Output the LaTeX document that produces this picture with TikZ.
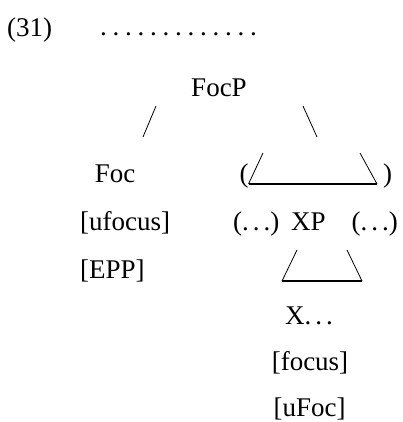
\documentclass[tikz,border=0pt]{standalone}
\usepackage{fontspec}
\setmainfont{Liberation Serif}
\newcommand\dts{.\kern4pt.\kern4pt.}
\begin{document}
\begin{tikzpicture}[
x=1pt, y=-1pt,
every node/.style={inner sep=0pt, font=\fontsize{27}{32}\selectfont},
label/.style={anchor=base},
feat/.style={anchor=base west},
branch/.style={line width=0.8pt},
base/.style={line width=2.2pt}
]
\useasboundingbox (0,0) rectangle (402,422);

\node (num) [feat] at (7,37) {(31)};
\node (dots) [feat] at (100,36) {\foreach \i in {1,...,13}{.\kern5.75pt}};

\node (focp) [label] at (219,97) {FocP};

\node (foc) [label] at (115,182) {Foc};
\node (ufocus) [feat] at (80,230) {[ufocus]};
\node (epp) [feat] at (80,278) {[EPP]};

\node (lpar) [label] at (244,182) {(};
\node (rpar) [label] at (387.5,182) {)};
\node (pre) [feat] at (233,230) {(\dts)};
\node (xp) [label] at (308.5,230) {XP};
\node (post) [anchor=base east] at (398,230) {(\dts)};

\node (x) [feat] at (285,324) {X.\kern4pt.\kern4pt.};
\node (focus) [label] at (310,370) {[focus]};
\node (ufoc) [label] at (309.5,416) {[uFoc]};

% branches under FocP
\coordinate (l1) at (156,106);
\coordinate (l2) at (143,137);
\coordinate (r1) at (303,106);
\coordinate (r2) at (317,137);
\draw[branch] (l1) -- (l2);
\draw[branch] (r1) -- (r2);

% triangle over XP
\coordinate (ta) at (263,153);
\coordinate (tb) at (248.5,184);
\coordinate (tc) at (377,184);
\coordinate (td) at (360,153);
\draw[branch] (ta) -- (tb);
\draw[base] (tb) -- (tc);
\draw[branch] (tc) -- (td);

% triangle under XP
\coordinate (ua) at (297,250);
\coordinate (ub) at (282,281);
\coordinate (uc) at (362,281);
\coordinate (ud) at (347,250);
\draw[branch] (ua) -- (ub);
\draw[base] (ub) -- (uc);
\draw[branch] (uc) -- (ud);
\end{tikzpicture}
\end{document}
